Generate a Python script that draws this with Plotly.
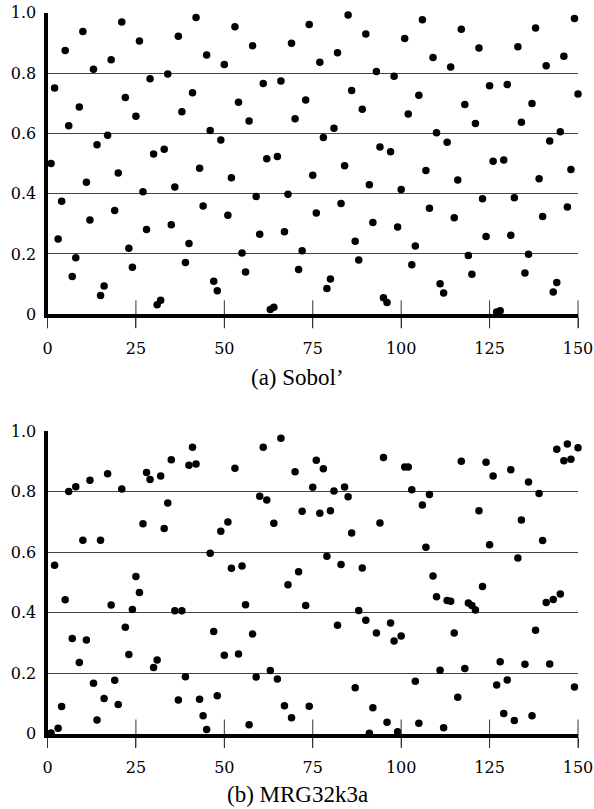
import plotly.graph_objects as go

# ---------------- data ----------------
index_values = list(range(1, 151))

sobol_values = [
    0.5, 0.75, 0.25, 0.375, 0.875, 0.625, 0.125, 0.1875, 0.6875, 0.9375,
    0.4375, 0.3125, 0.8125, 0.5625, 0.0625, 0.0938, 0.5938, 0.8438, 0.3438, 0.4688,
    0.9688, 0.7188, 0.2188, 0.1563, 0.6563, 0.9063, 0.4063, 0.2813, 0.7813, 0.5313,
    0.0313, 0.0469, 0.5469, 0.7969, 0.2969, 0.4219, 0.9219, 0.6719, 0.1719, 0.2344,
    0.7344, 0.9844, 0.4844, 0.3594, 0.8594, 0.6094, 0.1094, 0.0781, 0.5781, 0.8281,
    0.3281, 0.4531, 0.9531, 0.7031, 0.2031, 0.1406, 0.6406, 0.8906, 0.3906, 0.2656,
    0.7656, 0.5156, 0.0156, 0.0234, 0.5234, 0.7734, 0.2734, 0.3984, 0.8984, 0.6484,
    0.1484, 0.2109, 0.7109, 0.9609, 0.4609, 0.3359, 0.8359, 0.5859, 0.0859, 0.1172,
    0.6172, 0.8672, 0.3672, 0.4922, 0.9922, 0.7422, 0.2422, 0.1797, 0.6797, 0.9297,
    0.4297, 0.3047, 0.8047, 0.5547, 0.0547, 0.0391, 0.5391, 0.7891, 0.2891, 0.4141,
    0.9141, 0.6641, 0.1641, 0.2266, 0.7266, 0.9766, 0.4766, 0.3516, 0.8516, 0.6016,
    0.1016, 0.0703, 0.5703, 0.8203, 0.3203, 0.4453, 0.9453, 0.6953, 0.1953, 0.1328,
    0.6328, 0.8828, 0.3828, 0.2578, 0.7578, 0.5078, 0.0078, 0.0117, 0.5117, 0.7617,
    0.2617, 0.3867, 0.8867, 0.6367, 0.1367, 0.1992, 0.6992, 0.9492, 0.4492, 0.3242,
    0.8242, 0.5742, 0.0742, 0.1055, 0.6055, 0.8555, 0.3555, 0.4805, 0.9805, 0.7305,
]

mrg_values = [
    0.002, 0.556, 0.017, 0.089, 0.442, 0.800, 0.314, 0.816, 0.235, 0.639,
    0.309, 0.837, 0.166, 0.045, 0.639, 0.116, 0.859, 0.425, 0.176, 0.096,
    0.808, 0.351, 0.261, 0.410, 0.519, 0.466, 0.693, 0.863, 0.840, 0.218,
    0.243, 0.851, 0.678, 0.762, 0.905, 0.406, 0.111, 0.406, 0.188, 0.887,
    0.946, 0.891, 0.113, 0.059, 0.013, 0.596, 0.337, 0.125, 0.669, 0.259,
    0.699, 0.546, 0.877, 0.263, 0.554, 0.426, 0.029, 0.329, 0.187, 0.784,
    0.946, 0.772, 0.208, 0.695, 0.180, 0.976, 0.092, 0.492, 0.052, 0.865,
    0.535, 0.735, 0.423, 0.090, 0.814, 0.903, 0.728, 0.875, 0.586, 0.736,
    0.802, 0.358, 0.559, 0.815, 0.783, 0.663, 0.151, 0.407, 0.547, 0.374,
    0.001, 0.085, 0.332, 0.696, 0.912, 0.037, 0.365, 0.306, 0.006, 0.322,
    0.881, 0.881, 0.806, 0.173, 0.034, 0.755, 0.616, 0.790, 0.521, 0.452,
    0.209, 0.019, 0.440, 0.437, 0.332, 0.120, 0.900, 0.215, 0.431, 0.423,
    0.408, 0.736, 0.486, 0.897, 0.624, 0.851, 0.160, 0.237, 0.066, 0.177,
    0.872, 0.043, 0.580, 0.706, 0.229, 0.831, 0.059, 0.341, 0.793, 0.638,
    0.433, 0.230, 0.443, 0.940, 0.461, 0.902, 0.957, 0.907, 0.154, 0.945,
]

x_tick_vals = [0, 25, 50, 75, 100, 125, 150]
x_tick_text = ["0", "25", "50", "75", "100", "125", "150"]
y_tick_vals = [0, 0.2, 0.4, 0.6, 0.8, 1.0]
y_tick_text = ["0", "0.2", "0.4", "0.6", "0.8", "1.0"]
captions = ["(a) Sobol’", "(b) MRG32k3a"]

# ---------------- figure ----------------
W, H = 594, 809
fig = go.Figure()

marker = dict(color="black", size=7.5, line=dict(width=0))
fig.add_trace(go.Scatter(x=index_values, y=sobol_values, mode="markers",
                         marker=marker, xaxis="x", yaxis="y",
                         cliponaxis=False, showlegend=False, hoverinfo="x+y"))
fig.add_trace(go.Scatter(x=index_values, y=mrg_values, mode="markers",
                         marker=marker, xaxis="x2", yaxis="y2",
                         cliponaxis=False, showlegend=False, hoverinfo="x+y"))

# upper half of the crossing tick marks (drawn at the tick values on the axis)
for xa, ya in (("x", "y"), ("x2", "y2")):
    fig.add_trace(go.Scatter(x=x_tick_vals, y=[0] * len(x_tick_vals), mode="markers",
                             marker=dict(symbol="line-ns", size=20,
                                         line=dict(width=1, color="#333")),
                             xaxis=xa, yaxis=ya, cliponaxis=False,
                             showlegend=False, hoverinfo="skip"))

serif_ticks = "DejaVu Serif, Liberation Serif, serif"
serif_caption = "Liberation Serif, Times New Roman, serif"
tick_font = dict(family=serif_ticks, size=16, color="black")
x_dom = [47.5 / W, 578 / W]

def y_dom(top_px, bottom_px):
    return [(H - bottom_px) / H, (H - top_px) / H]

def xaxis_main(anchor):
    return dict(domain=x_dom, range=[0, 150], anchor=anchor,
                showline=True, linewidth=4, linecolor="black",
                showgrid=False, zeroline=False,
                ticks="outside", ticklen=10, tickwidth=1, tickcolor="#333",
                tickvals=x_tick_vals, ticktext=x_tick_text,
                tickfont=tick_font, ticklabelstandoff=6, automargin=False)

def yaxis_main(anchor, dom):
    return dict(domain=dom, range=[0, 1], anchor=anchor,
                showline=True, linewidth=4, linecolor="black",
                showgrid=True, gridcolor="#444", gridwidth=1,
                zeroline=False, ticks="",
                tickvals=y_tick_vals, ticktext=y_tick_text,
                tickfont=tick_font, ticklabelstandoff=4, automargin=False)

fig.update_layout(
    width=W, height=H,
    margin=dict(l=0, r=0, t=0, b=0),
    paper_bgcolor="white", plot_bgcolor="white",
    xaxis=xaxis_main("y"),
    yaxis=yaxis_main("x", y_dom(12.7, 314.3)),
    xaxis2=xaxis_main("y2"),
    yaxis2=yaxis_main("x2", y_dom(431, 733.5)),
    annotations=[
        dict(text=captions[0], x=0.5, y=(H - 378) / H, xref="paper", yref="paper",
             xanchor="center", yanchor="middle", showarrow=False,
             font=dict(family=serif_caption, size=23, color="black")),
        dict(text=captions[1], x=0.5, y=(H - 794) / H, xref="paper", yref="paper",
             xanchor="center", yanchor="middle", showarrow=False,
             font=dict(family=serif_caption, size=23, color="black")),
    ],
)

fig.write_html("out.html", config={"displayModeBar": False},
               post_script="document.body.style.margin='0';document.body.style.overflow='hidden';")
